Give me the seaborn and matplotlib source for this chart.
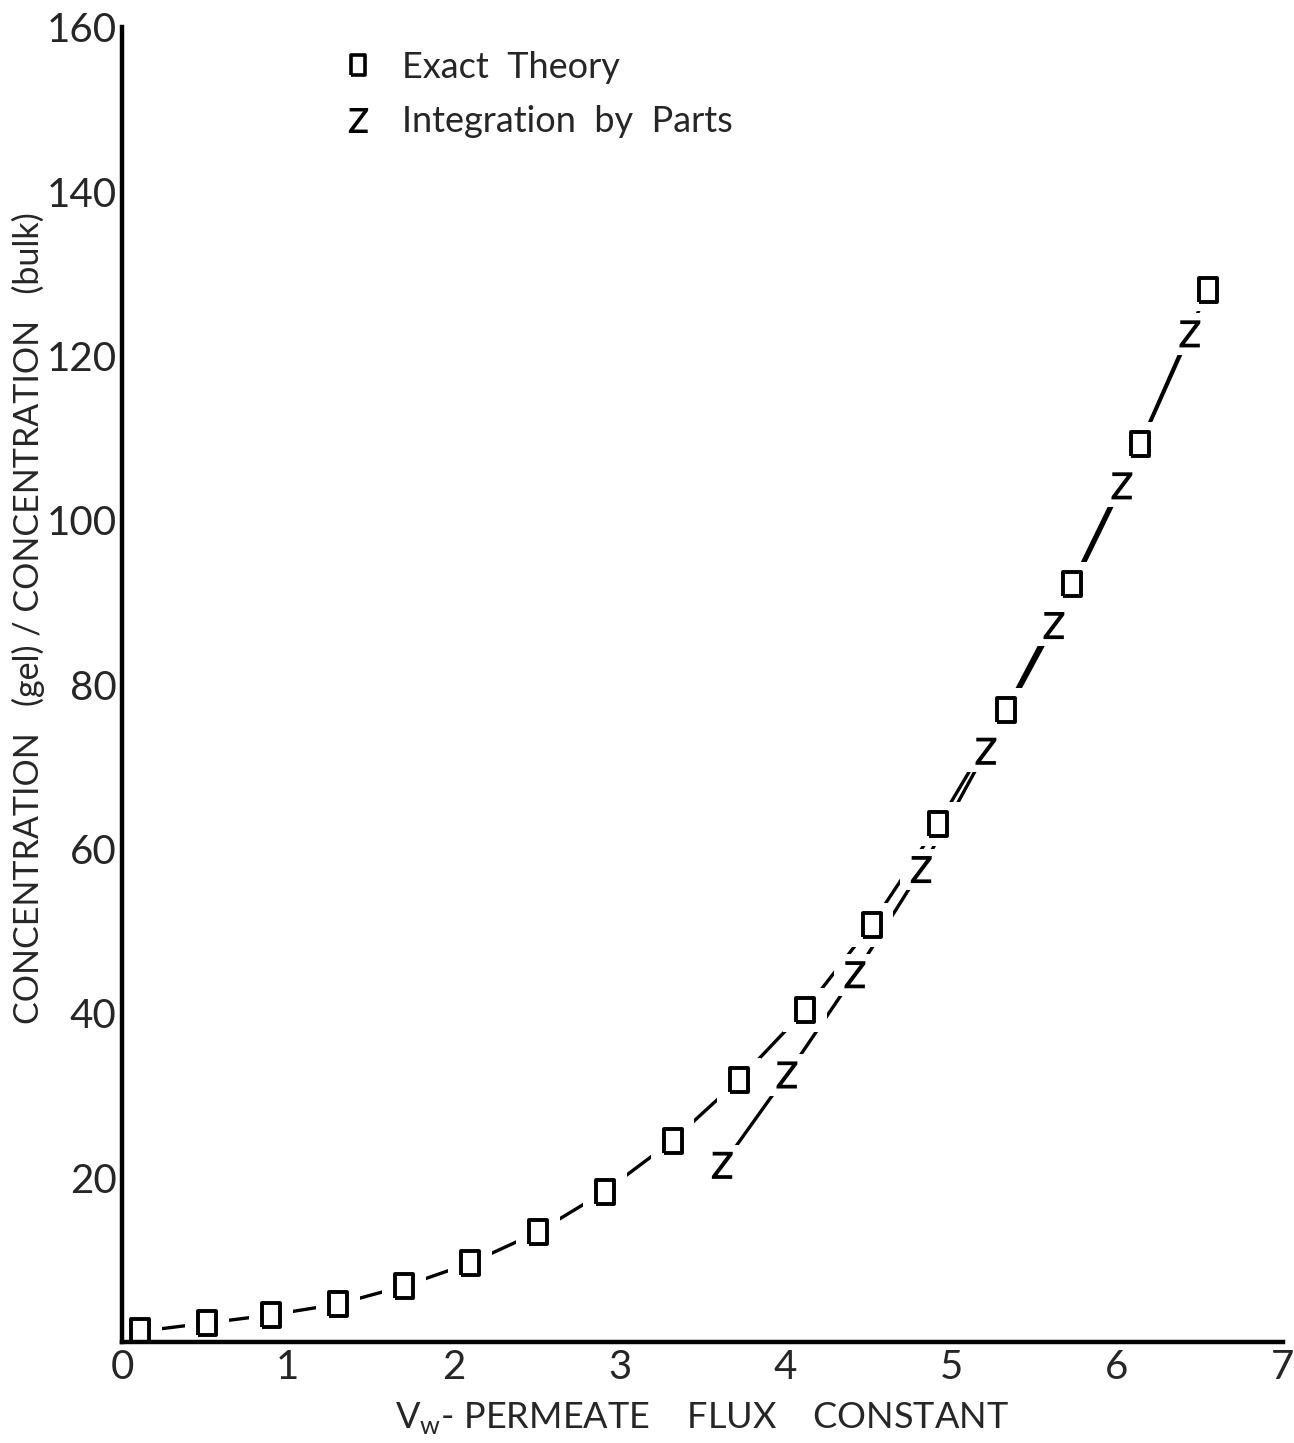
import numpy as np
import pandas as pd
import matplotlib
matplotlib.use("Agg")
import matplotlib.pyplot as plt
import seaborn as sns
from matplotlib.lines import Line2D

# ---- data ----
exact_x = [0.11, 0.51, 0.90, 1.30, 1.70, 2.10, 2.51, 2.91, 3.32, 3.72, 4.12, 4.52, 4.92, 5.33, 5.73, 6.14, 6.55]
exact_y = [1.3, 2.3, 3.3, 4.6, 6.8, 9.6, 13.4, 18.3, 24.5, 31.9, 40.4, 50.8, 63.0, 76.9, 92.3, 109.3, 128.1]
parts_x = [3.62, 4.01, 4.42, 4.82, 5.21, 5.62, 6.03, 6.44]
parts_y = [21.5, 32.5, 44.7, 57.5, 71.9, 87.2, 104.2, 122.7]
x_ticks = [0, 1, 2, 3, 4, 5, 6, 7]
y_ticks = [20, 40, 60, 80, 100, 120, 140, 160]
series_labels = ["Exact  Theory", "Integration  by  Parts"]

df_exact = pd.DataFrame({"x": exact_x, "y": exact_y})
df_parts = pd.DataFrame({"x": parts_x, "y": parts_y})

sns.set_style("white")
plt.rcParams["font.family"] = ["Lato", "DejaVu Sans"]
plt.rcParams["mathtext.fontset"] = "custom"
plt.rcParams["mathtext.sf"] = "Lato"
plt.rcParams["mathtext.rm"] = "Lato"

fig = plt.figure(figsize=(12.94, 14.43), dpi=100)
ax = fig.add_axes([0.0943, 0.070, 0.897, 0.911])

LW = 2.4
rect = [(-0.7, -1), (0.7, -1), (0.7, 1), (-0.7, 1), (-0.7, -1)]

# connecting curves
sns.lineplot(data=df_exact, x="x", y="y", ax=ax, color="black", lw=LW, sort=False, zorder=2)
sns.lineplot(data=df_parts, x="x", y="y", ax=ax, color="black", lw=LW, sort=False, zorder=2)

# white halos to break the lines at markers
sns.scatterplot(data=df_exact, x="x", y="y", ax=ax, marker="s", s=1000, color="white",
                edgecolor="none", zorder=3)
sns.scatterplot(data=df_parts, x="x", y="y", ax=ax, marker="s", s=900, color="white",
                edgecolor="none", zorder=3)

# markers
sns.scatterplot(data=df_exact, x="x", y="y", ax=ax, marker=rect, s=320, facecolor="white",
                edgecolor="black", linewidth=2.8, zorder=4)
sns.scatterplot(data=df_parts, x="x", y="y", ax=ax, marker="$\\mathsf{z}$", s=380, color="black",
                edgecolor="none", linewidth=0, zorder=4)

ax.set_xlim(0, 7)
ax.set_ylim(0, 160)
ax.set_xticks(x_ticks)
ax.set_yticks(y_ticks)
ax.set_xticklabels([str(t) for t in x_ticks])
ax.set_yticklabels([str(t) for t in y_ticks])

for s in ["top", "right"]:
    ax.spines[s].set_visible(False)
for s in ["left", "bottom"]:
    ax.spines[s].set_linewidth(3.2)
    ax.spines[s].set_color("black")
    ax.spines[s].set_zorder(6)

ax.tick_params(axis="both", direction="in", length=20, width=2.6, color="black",
               labelsize=29)
ax.tick_params(axis="x", pad=5)
ax.tick_params(axis="y", pad=4)

ax.set_xlabel("V$_\\mathsf{w}$- PERMEATE    FLUX    CONSTANT", fontsize=26, labelpad=10)
ax.set_ylabel("CONCENTRATION   (gel) / CONCENTRATION   (bulk)", fontsize=24.5)
ax.yaxis.set_label_coords(-0.081, 0.551)
ax.yaxis.label.set_va("center")

handles = [
    Line2D([], [], marker=rect, markersize=15, mfc="white", mec="black", mew=2.6, ls="none"),
    Line2D([], [], marker="$\\mathsf{z}$", markersize=18, color="black", mew=0, ls="none"),
]
leg = ax.legend(handles, series_labels, loc="upper left", bbox_to_anchor=(0.16, 1.007),
                frameon=False, fontsize=26, handlelength=1.0, handletextpad=0.7,
                labelspacing=0.6)

fig.savefig("out.png", dpi=100, facecolor="white")
